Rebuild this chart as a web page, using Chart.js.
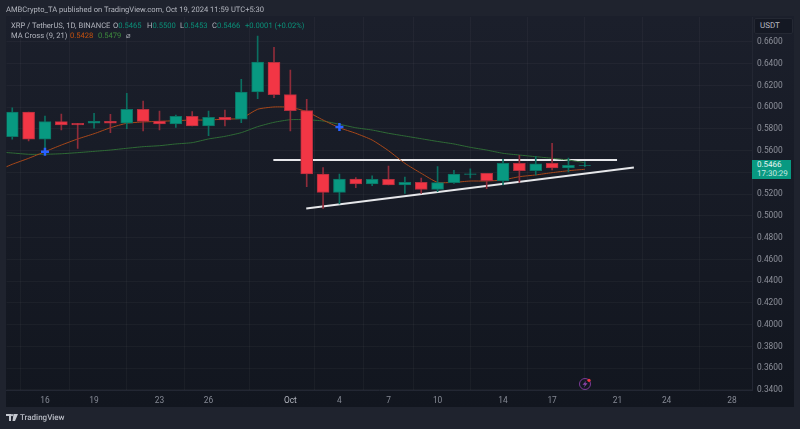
<!DOCTYPE html>
<html lang="en">
  <head>
    <meta charset="UTF-8" />
    <title>XRP / TetherUS 1D</title>
    <style>
      html, body { margin: 0; padding: 0; background: #1f232e; overflow: hidden; }
      body { width: 800px; height: 429px; position: relative; font-family: Roboto, Arial, sans-serif; }
      canvas { position: absolute; left: 0; top: 0; }
      .t { position: absolute; white-space: nowrap; font-size: 8px; line-height: 12px; color: #b2b5be; text-rendering: geometricPrecision; }
      .s { font-size: 7.6px; }
      .g { color: #0b8f78; }
      .cover { position: absolute; background: #12161f; }
    </style>
    <script src="https://cdn.jsdelivr.net/npm/chart.js"></script>
  </head>
  <body>
    <canvas id="chart" width="800" height="429"></canvas>

    <div class="t s" style="left:6px;top:4px">AMBCrypto_TA published on TradingView.com, Oct 19, 2024 11:59 UTC+5:30</div>

    <div class="t s" style="left:11px;top:20px">XRP / TetherUS, 1D, BINANCE</div>
    <div class="t s" style="left:113px;top:20px">O<span class="g">0.5465</span></div>
    <div class="t s" style="left:147px;top:20px">H<span class="g">0.5500</span></div>
    <div class="t s" style="left:180px;top:20px">L<span class="g">0.5453</span></div>
    <div class="t s" style="left:212px;top:20px">C<span class="g">0.5466</span></div>
    <div class="t s g" style="left:245px;top:20px">+0.0001 (+0.02%)</div>

    <div class="t s" style="left:11px;top:30px">MA Cross (9, 21)</div>
    <div class="t s" style="left:70px;top:30px;color:#c2500f">0.5428</div>
    <div class="t s" style="left:98px;top:30px;color:#3d8a3d">0.5479</div>
    <div class="t s" style="left:126px;top:30px">⌀</div>

    <div style="position:absolute;left:754px;top:18px;width:37px;height:14px;background:#141823;border:1px solid #242833;border-radius:2px"></div>
    <div class="t" style="left:760px;top:20px;color:#b8bbc4">USDT</div>

    <div class="cover" style="left:753px;top:392px;width:41px;height:15px"></div>
    <div class="t" style="left:752px;top:160px;width:39px;height:19px;background:#089981"></div>
    <div class="t" style="left:757px;top:159px;color:#e6f5f2">0.5466</div>
    <div class="t" style="left:757px;top:168px;color:#c8e9e3">17:30:29</div>

    <svg style="position:absolute;left:6px;top:414px" width="12" height="8" viewBox="0 0 12 8">
      <path d="M0 0h5v7H3V2H0zM7.5 0h4.5L9 7H6.5z" fill="#c4c7cf" />
      <circle cx="6" cy="1.2" r="1.1" fill="#c4c7cf" />
    </svg>
    <div class="t" style="left:20px;top:412px;color:#b8bbc4;font-weight:500">TradingView</div>

    <script>
      // days run on from September, so Oct 1 = 31
      const days = [14, 15, 16, 17, 18, 19, 20, 21, 22, 23, 24, 25, 26, 27, 28, 29, 30, 31, 32, 33, 34, 35, 36, 37, 38, 39, 40, 41, 42, 43, 44, 45, 46, 47, 48, 49];
      const opens = [0.5729, 0.5956, 0.5705, 0.5867, 0.5852, 0.5852, 0.587, 0.5852, 0.5981, 0.5873, 0.5846, 0.5916, 0.5827, 0.5907, 0.5889, 0.614, 0.6413, 0.6115, 0.5968, 0.5386, 0.5217, 0.534, 0.5294, 0.5337, 0.5285, 0.5309, 0.5245, 0.5306, 0.5382, 0.5392, 0.5321, 0.5484, 0.5416, 0.5484, 0.5441, 0.5465];
      const closes = [0.5956, 0.5705, 0.5867, 0.5836, 0.5836, 0.587, 0.5852, 0.5981, 0.587, 0.5846, 0.5916, 0.5827, 0.5907, 0.5882, 0.614, 0.6416, 0.6115, 0.5968, 0.5386, 0.5217, 0.534, 0.5294, 0.5337, 0.5285, 0.5309, 0.5245, 0.5306, 0.5386, 0.5388, 0.5324, 0.5484, 0.5416, 0.548, 0.5441, 0.5466, 0.5466];
      const highs = [0.5995, 0.5956, 0.5919, 0.5937, 0.5852, 0.5944, 0.5935, 0.6128, 0.6057, 0.5965, 0.5928, 0.5959, 0.5965, 0.5974, 0.6256, 0.6655, 0.6551, 0.6342, 0.6073, 0.5444, 0.5386, 0.5352, 0.537, 0.5459, 0.5358, 0.5349, 0.5453, 0.542, 0.5434, 0.5392, 0.5521, 0.5558, 0.5545, 0.5668, 0.5533, 0.55];
      const lows = [0.5705, 0.5689, 0.5591, 0.579, 0.5622, 0.5806, 0.5765, 0.5802, 0.5781, 0.579, 0.5815, 0.5827, 0.5738, 0.5827, 0.5857, 0.6078, 0.6087, 0.5781, 0.5269, 0.507, 0.511, 0.526, 0.5278, 0.5285, 0.5208, 0.5208, 0.5223, 0.53, 0.5349, 0.5251, 0.5285, 0.5309, 0.5377, 0.5423, 0.5404, 0.5453];

      // one extra point on Sep 13 so both lines run off the left edge
      const maDays = [13].concat(days);
      const ma9 = [0.541, 0.5475, 0.553, 0.5591, 0.5652, 0.5708, 0.5756, 0.5811, 0.5852, 0.5864, 0.587, 0.5876, 0.5882, 0.5882, 0.5891, 0.5898, 0.5981, 0.6002, 0.5999, 0.5959, 0.5882, 0.5811, 0.576, 0.5698, 0.56, 0.5484, 0.5392, 0.5309, 0.5309, 0.5321, 0.5321, 0.5331, 0.5361, 0.5377, 0.5398, 0.5416, 0.5429];
      const ma21 = [0.559, 0.5579, 0.5567, 0.5567, 0.5572, 0.5582, 0.5594, 0.5606, 0.5622, 0.5637, 0.5646, 0.5662, 0.5674, 0.5708, 0.5732, 0.5766, 0.5821, 0.5861, 0.5885, 0.5885, 0.5873, 0.5843, 0.5811, 0.579, 0.576, 0.5735, 0.571, 0.5685, 0.5662, 0.5631, 0.5606, 0.5576, 0.556, 0.5545, 0.553, 0.5514, 0.549];

      const crossDays = [16, 34];
      const crossPrices = [0.5591, 0.5818];
      const flatLineDays = [29.96, 50.97];
      const flatLinePrices = [0.5514, 0.5514];
      const riseLineDays = [31.97, 52.0];
      const riseLinePrices = [0.5069, 0.5446];

      const priceTicks = [0.66, 0.64, 0.62, 0.6, 0.58, 0.56, 0.54, 0.52, 0.5, 0.48, 0.46, 0.44, 0.42, 0.4, 0.38, 0.36, 0.34];
      const timeTickDays = [16, 19, 23, 26, 31, 34, 37, 40, 44, 47, 51, 54, 58];
      const timeTickLabels = ["16", "19", "23", "26", "Oct", "4", "7", "10", "14", "17", "21", "24", "28"];

      const pairs = (xs, ys) => xs.map((x, i) => ({ x: x, y: ys[i] }));
      const isUp = (i) => closes[i] >= opens[i];

      const panelPlugin = {
        id: "panel",
        beforeDraw(chart) {
          const c = chart.ctx;
          const grad = c.createLinearGradient(0, 17, 0, 407);
          grad.addColorStop(0, "#1b1f2b");
          grad.addColorStop(1, "#12161f");
          c.fillStyle = grad;
          c.fillRect(6, 16, 788, 391);
        },
        afterDraw(chart) {
          // the small purple flash badge near the bottom
          const c = chart.ctx;
          c.save();
          c.strokeStyle = "#7b3a96";
          c.lineWidth = 1;
          c.beginPath();
          c.arc(585, 384, 5.5, 0, Math.PI * 2);
          c.stroke();
          c.fillStyle = "#8e44ad";
          c.beginPath();
          c.moveTo(586.5, 380.5);
          c.lineTo(582.5, 384.8);
          c.lineTo(585, 384.8);
          c.lineTo(583.8, 387.5);
          c.lineTo(587.6, 383.2);
          c.lineTo(585.2, 383.2);
          c.closePath();
          c.fill();
          c.fillStyle = "#f23645";
          c.beginPath();
          c.arc(589, 380.3, 1.6, 0, Math.PI * 2);
          c.fill();
          c.restore();
        },
      };

      new Chart(document.getElementById("chart"), {
        data: {
          datasets: [
            {
              type: "bar",
              data: pairs(days, opens.map((o, i) => [o, closes[i]])),
              barThickness: 12,
              grouped: false,
              backgroundColor: (ctx) => (isUp(ctx.dataIndex) ? "#089981" : "#f23645"),
              borderColor: (ctx) => (isUp(ctx.dataIndex) ? "#0b7465" : "#b52f3e"),
              borderWidth: 1,
              borderSkipped: false,
              order: 2,
            },
            {
              type: "bar",
              data: pairs(days, lows.map((l, i) => [l, highs[i]])),
              barThickness: 1,
              grouped: false,
              backgroundColor: (ctx) => (isUp(ctx.dataIndex) ? "#0b6f61" : "#8f2c3a"),
              order: 3,
            },
            {
              type: "line",
              data: pairs(maDays, ma9),
              borderColor: "#a8481a",
              borderWidth: 1,
              pointRadius: 0,
              tension: 0.2,
              order: 4,
            },
            {
              type: "line",
              data: pairs(maDays, ma21),
              borderColor: "#2f6b36",
              borderWidth: 1,
              pointRadius: 0,
              tension: 0.2,
              order: 5,
            },
            {
              type: "line",
              data: pairs(flatLineDays, flatLinePrices),
              borderColor: "#e6e7ea",
              borderWidth: 2,
              pointRadius: 0,
              order: 6,
            },
            {
              type: "line",
              data: pairs(riseLineDays, riseLinePrices),
              borderColor: "#e6e7ea",
              borderWidth: 2,
              pointRadius: 0,
              order: 6,
            },
            {
              type: "scatter",
              data: pairs(crossDays, crossPrices),
              pointStyle: "cross",
              pointRadius: 4,
              borderWidth: 2.5,
              borderColor: "#2962ff",
              backgroundColor: "#2962ff",
              order: 1,
            },
          ],
        },
        options: {
          responsive: false,
          animation: false,
          layout: { padding: { left: 6, top: 17, right: 6, bottom: 22 } },
          plugins: { legend: { display: false }, tooltip: { enabled: false } },
          scales: {
            x: {
              type: "linear",
              offset: false,
              min: 13.648,
              max: 59.22,
              afterFit(scale) {
                scale.height = 17;
              },
              afterBuildTicks(scale) {
                scale.ticks = timeTickDays.map((d) => ({ value: d }));
              },
              grid: { color: "rgba(255,255,255,0.035)", drawTicks: false },
              border: { color: "#232733" },
              ticks: {
                autoSkip: false,
                maxRotation: 0,
                padding: 6,
                color: (ctx) => (ctx.tick && ctx.tick.value === 31 ? "#b2b5be" : "#868a95"),
                font: { family: "Roboto", size: 8.4 },
                callback: (v) => timeTickLabels[timeTickDays.indexOf(v)],
              },
            },
            y: {
              type: "linear",
              position: "right",
              min: 0.33995,
              max: 0.68294,
              afterFit(scale) {
                scale.width = 42;
              },
              afterBuildTicks(scale) {
                scale.ticks = priceTicks.map((p) => ({ value: p }));
              },
              grid: { color: "rgba(255,255,255,0.035)", drawTicks: false },
              border: { color: "#232733" },
              ticks: {
                autoSkip: false,
                padding: 5,
                color: "#8d909a",
                font: { family: "Roboto", size: 8.4 },
                callback: (v) => v.toFixed(4),
              },
            },
          },
        },
        plugins: [panelPlugin],
      });
    </script>
  </body>
</html>
